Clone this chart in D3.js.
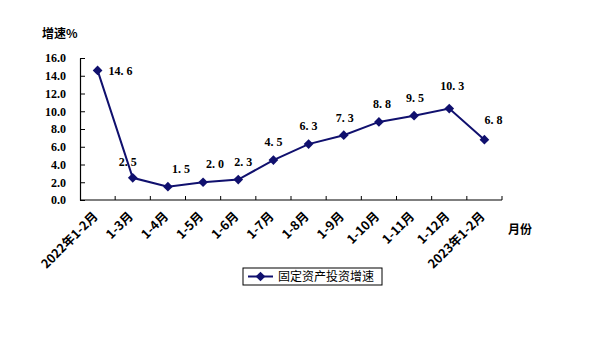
<!DOCTYPE html>
<html>
<head>
<meta charset="utf-8">
<script src="https://cdn.jsdelivr.net/npm/d3@7"></script>
<style>
  body { margin: 0; background: #fff; }
  svg { display: block; }
</style>
</head>
<body>
<div id="chart"></div>
<script>
// Chart data
const categories = ['2022年1-2月', '1-3月', '1-4月', '1-5月', '1-6月', '1-7月', '1-8月',
    '1-9月', '1-10月', '1-11月', '1-12月', '2023年1-2月'];
const growth = [14.6, 2.5, 1.5, 2.0, 2.3, 4.5, 6.3, 7.3, 8.8, 9.5, 10.3, 6.8];
const yTicks = [0, 2, 4, 6, 8, 10, 12, 14, 16];
const seriesName = '固定资产投资增速';

// label nudges (dx, dy) so labels sit like the original
const labelNudge = [[23, 0], [-5, -16], [13, -18], [12, -18], [5, -18], [0, -18],
    [0, -18], [1, -17], [3, -18], [1, -18], [3, -23], [9, -20]];

const width = 600, height = 362;
const plot = { left: 80, right: 502, top: 58, bottom: 200 };
const lineColor = '#10106e';
const latinFont = '"Liberation Serif", "DejaVu Serif", serif';
const cjkFont = '"Noto Sans CJK SC", sans-serif';

const svg = d3.select('#chart').append('svg')
    .attr('width', width)
    .attr('height', height);

const x = d3.scaleBand()
    .domain(categories)
    .range([plot.left, plot.right])
    .padding(0);

const y = d3.scaleLinear()
    .domain([0, 16])
    .range([plot.bottom, plot.top]);

// y axis
const yAxis = svg.append('g')
    .attr('transform', `translate(${plot.left},0)`)
    .call(d3.axisLeft(y).tickValues(yTicks).tickSizeInner(-5).tickSizeOuter(0).tickFormat(d3.format('.1f')));
yAxis.select('.domain').attr('stroke', '#000').attr('stroke-width', 1.2);
yAxis.selectAll('.tick line').attr('stroke', '#000');
yAxis.selectAll('.tick text')
    .attr('x', -14)
    .style('font-family', latinFont)
    .style('font-weight', 'bold')
    .style('font-size', '12px')
    .attr('fill', '#000');

// x axis, ticks pointing up at band edges
const xg = svg.append('g').attr('transform', `translate(0,${plot.bottom})`);
xg.append('line')
    .attr('x1', plot.left).attr('x2', plot.right)
    .attr('y1', 0).attr('y2', 0)
    .attr('stroke', '#000').attr('stroke-width', 1.2);
xg.selectAll('line.tk')
    .data(categories)
    .enter().append('line')
    .attr('class', 'tk')
    .attr('x1', d => x(d) + x.bandwidth()).attr('x2', d => x(d) + x.bandwidth())
    .attr('y1', 0).attr('y2', -4)
    .attr('stroke', '#000');
xg.selectAll('text.cat')
    .data(categories)
    .enter().append('text')
    .attr('class', 'cat')
    .attr('transform', d => `translate(${x(d) + x.bandwidth() / 2 - 2},${14}) rotate(-45)`)
    .attr('text-anchor', 'end')
    .attr('dy', '0.35em')
    .style('font-family', cjkFont)
    .style('font-weight', 'bold')
    .style('font-size', '12.5px')
    .attr('fill', '#000')
    .text(d => d);

// axis titles
svg.append('text')
    .attr('x', 42).attr('y', 38)
    .style('font-family', cjkFont)
    .style('font-weight', 'bold')
    .style('font-size', '12px')
    .text('增速%');
svg.append('text')
    .attr('x', 508).attr('y', 234)
    .style('font-family', cjkFont)
    .style('font-weight', 'bold')
    .style('font-size', '12px')
    .text('月份');

// line
const line = d3.line()
    .x((d, i) => x(categories[i]) + x.bandwidth() / 2)
    .y(d => y(d));

svg.append('path')
    .datum(growth)
    .attr('d', line)
    .attr('fill', 'none')
    .attr('stroke', lineColor)
    .attr('stroke-width', 2);

const diamond = d3.symbol().type(d3.symbolDiamond2).size(60);
svg.append('g').selectAll('path')
    .data(growth)
    .enter().append('path')
    .attr('d', diamond)
    .attr('transform', (d, i) => `translate(${x(categories[i]) + x.bandwidth() / 2},${y(d)})`)
    .attr('fill', lineColor);

// data labels
svg.append('g').selectAll('text')
    .data(growth)
    .enter().append('text')
    .attr('x', (d, i) => x(categories[i]) + x.bandwidth() / 2 + labelNudge[i][0])
    .attr('y', (d, i) => y(d) + labelNudge[i][1])
    .attr('text-anchor', 'middle')
    .attr('dy', '0.35em')
    .style('font-family', latinFont)
    .style('font-weight', 'bold')
    .style('font-size', '12px')
    .text(d => d3.format('.1f')(d).replace('.', '. '));

// legend
const lg = svg.append('g').attr('transform', 'translate(243,268)');
lg.append('rect')
    .attr('width', 139).attr('height', 17)
    .attr('fill', '#fff').attr('stroke', '#000').attr('stroke-width', 1);
lg.append('line')
    .attr('x1', 5).attr('x2', 30).attr('y1', 8.5).attr('y2', 8.5)
    .attr('stroke', lineColor).attr('stroke-width', 2);
lg.append('path')
    .attr('d', diamond)
    .attr('transform', 'translate(17.5,8.5)')
    .attr('fill', lineColor);
lg.append('text')
    .attr('x', 35).attr('y', 8.5)
    .attr('dy', '0.35em')
    .style('font-family', cjkFont)
    .style('font-size', '12px')
    .text(seriesName);
</script>
</body>
</html>
